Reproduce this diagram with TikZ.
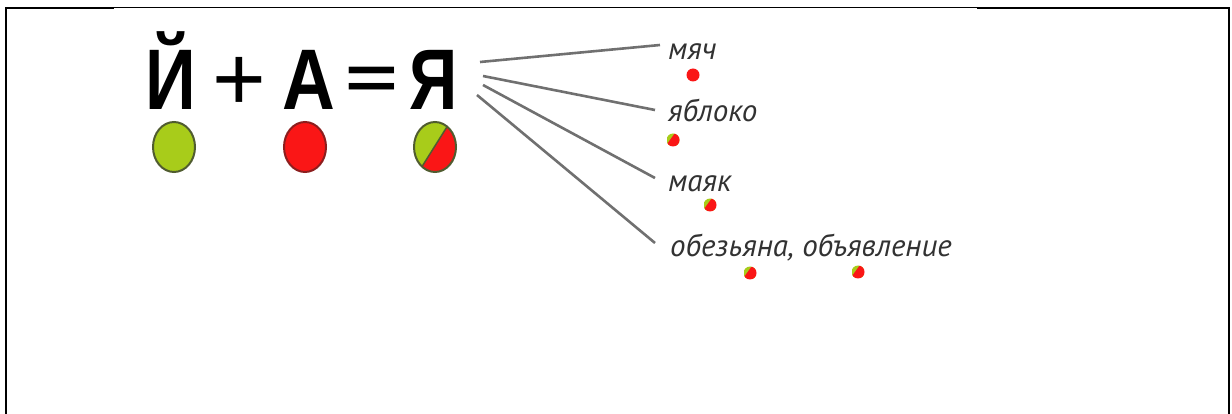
\documentclass[tikz,border=0pt]{standalone}
\usepackage{fontspec}
\usetikzlibrary{shapes.geometric,calc}
\newfontfamily\bigfont{Liberation Sans}
\newfontfamily\wordfont{PT Sans}
\definecolor{ygreen}{RGB}{168,204,26}
\definecolor{rred}{RGB}{250,22,22}
\definecolor{gborder}{RGB}{80,92,48}
\definecolor{rborder}{RGB}{140,30,30}
\definecolor{linegray}{RGB}{112,112,112}
\definecolor{wordgray}{RGB}{50,50,50}
\tikzset{
  frameline/.style={line width=2pt},
  bigglyph/.style={inner sep=0pt, anchor=base},
  word/.style={inner sep=0pt, anchor=base west, text=wordgray, font=\wordfont\itshape\fontsize{31}{31}\selectfont},
  bigoval/.style={ellipse, inner sep=0pt, minimum width=42pt, minimum height=50pt, line width=2pt},
  connector/.style={draw=linegray, line width=2.6pt},
  smalldot/.style={circle, inner sep=0pt, minimum size=13pt},
  splitdot/.style={smalldot, path picture={
      \fill[ygreen] (path picture bounding box.north west) rectangle (path picture bounding box.south east);
      \begin{scope}[shift={(path picture bounding box.center)}]
        \fill[rred] (6,-12.5) -- (-10,9.5) -- (12,12) -- (12,-12.5) -- cycle;
      \end{scope}}},
}
\begin{document}
\begin{tikzpicture}[x=1pt,y=-1pt]
\useasboundingbox (0,0) rectangle (1232,414);
% frame
\draw[frameline] (6,414) -- (6,7.8) -- (114,7.8);
\draw[line width=1pt] (114,7.5) -- (977,7.5);
\draw[frameline] (977,7.8) -- (1229,7.8) -- (1229,414);
% equation
\node[bigglyph] (jj) at (170.5,110) {\scalebox{0.82}[1]{\bigfont\bfseries\fontsize{86}{86}\selectfont Й}};
\node[bigglyph] (plus) at (239,111) {\bigfont\fontsize{92}{92}\selectfont +};
\node[bigglyph] (aa) at (308.5,110) {\scalebox{0.85}[1]{\bigfont\bfseries\fontsize{86}{86}\selectfont А}};
\node[bigglyph] (eq) at (372,99) {\scalebox{1.05}[0.7]{\bigfont\bfseries\fontsize{86}{86}\selectfont =}};
\node[bigglyph] (ya) at (434,110) {\scalebox{0.78}[1]{\bigfont\bfseries\fontsize{86}{86}\selectfont Я}};
% ovals
\node[bigoval, draw=gborder, fill=ygreen] (o1) at (174,147) {};
\node[bigoval, draw=rborder, fill=rred] (o2) at (305,147) {};
\node[bigoval, draw=gborder, path picture={
    \fill[ygreen] (path picture bounding box.north west) rectangle (path picture bounding box.south east);
    \begin{scope}[shift={(path picture bounding box.center)}]
      \fill[rred] (32,-52) -- (-34,53) -- (40,53) -- (40,-52) -- cycle;
      \draw[gborder, line width=1.5pt] (32,-52) -- (-34,53);
    \end{scope}}] (o3) at (435,147) {};
% words
\node[word] (w1) at (668,60) {мяч};
\node[word] (w2) at (668,122) {яблоко};
\node[word] (w3) at (668,192) {маяк};
\node[word] (w4) at (670,257) {обезьяна, объявление};
% dots
\node[smalldot, fill=rred] (d1) at (693,75) {};
\node[splitdot] (d2) at (673,140) {};
\node[splitdot] (d3) at (710,205) {};
\node[splitdot] (d4) at (750,273) {};
\node[splitdot] (d5) at (858,272) {};
% connectors
\coordinate (s1) at (480,62);
\coordinate (s2) at (483,76);
\coordinate (s3) at (483,85);
\coordinate (s4) at (477,95);
\coordinate (e1) at (660,45);
\coordinate (e2) at (655,110);
\coordinate (e3) at (655,178);
\coordinate (e4) at (655,243);
\draw[connector] (s1) -- (e1);
\draw[connector] (s2) -- (e2);
\draw[connector] (s3) -- (e3);
\draw[connector] (s4) -- (e4);
\end{tikzpicture}
\end{document}
